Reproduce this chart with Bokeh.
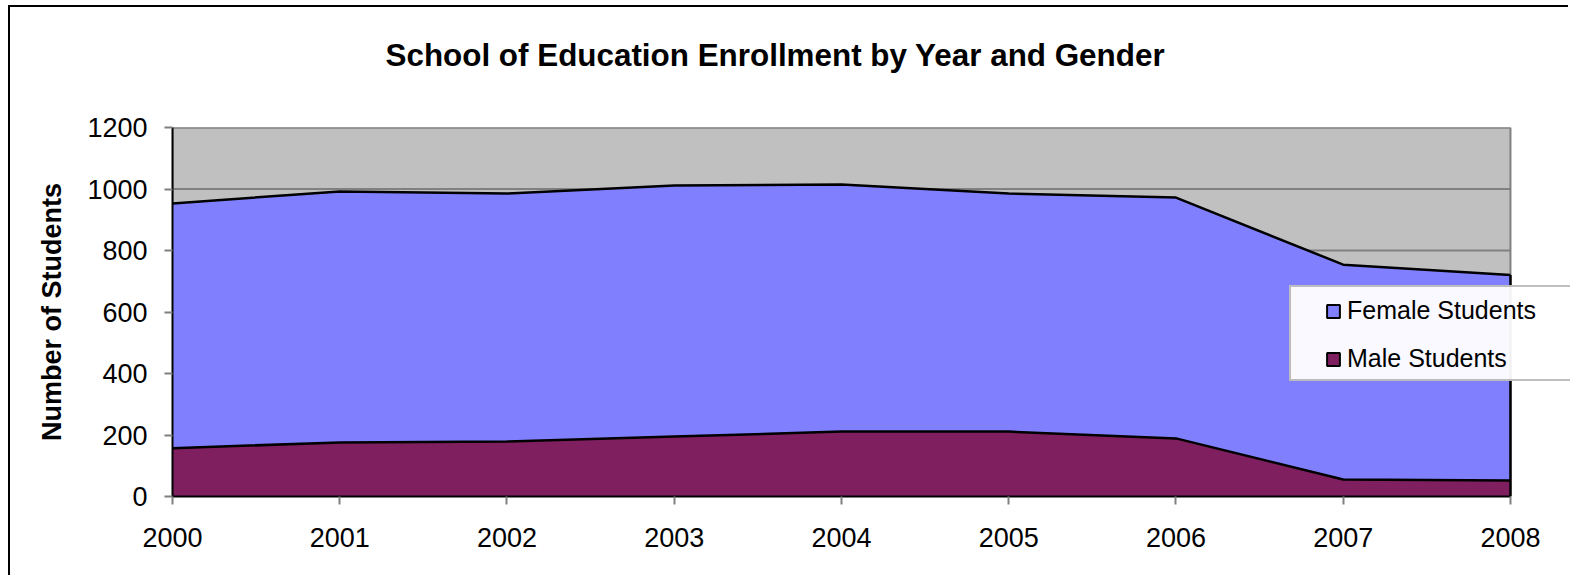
from bokeh.plotting import figure
from bokeh.models import ColumnDataSource, FixedTicker, Legend, LegendItem, Title
from bokeh.embed import file_html
from bokeh.resources import INLINE

years = [2000, 2001, 2002, 2003, 2004, 2005, 2006, 2007, 2008]
total_students = [953, 992, 985, 1011, 1015, 985, 972, 754, 720]
male_students = [157, 176, 179, 195, 211, 211, 189, 55, 52]
female_students = [t - m for t, m in zip(total_students, male_students)]
y_ticks = [0, 200, 400, 600, 800, 1000, 1200]

title_text = "School of Education Enrollment by Year and Gender"
y_label = "Number of Students"
series_names = ["Female Students", "Male Students"]

FEMALE = "#8080FF"
MALE = "#7F1F5F"
PLOT_BG = "#C0C0C0"
GRID = "#808080"
FONT = "Liberation Sans"
NAN = float("nan")

src = ColumnDataSource(dict(year=years, male=male_students, female=female_students,
                            total=total_students))

# frame runs to the right edge of the canvas so the legend can overlap the plot area
x_end = years[-1] + 0.359
p = figure(width=1560, height=570, output_backend="svg", toolbar_location=None,
           x_range=(years[0], x_end), y_range=(y_ticks[0], y_ticks[-1]),
           min_border_left=162, min_border_right=0, min_border_top=120, min_border_bottom=81)
p.styles = {"border-left": "2px solid black", "border-top": "2px solid black",
            "margin-left": "8px", "margin-top": "5px"}
p.background_fill_color = "white"
p.border_fill_color = "white"
p.outline_line_color = None
p.xgrid.visible = False
p.ygrid.visible = False

# plot area background + outline
p.quad(left=[years[0]], right=[years[-1]], bottom=[y_ticks[0]], top=[y_ticks[-1]],
       fill_color=PLOT_BG, line_color=GRID, line_width=2)
# horizontal gridlines
p.segment(x0=[years[0]] * len(y_ticks), x1=[years[-1]] * len(y_ticks),
          y0=y_ticks, y1=y_ticks, line_color=GRID, line_width=2)

areas = p.varea_stack(["male", "female"], x="year", source=src, color=[MALE, FEMALE])
p.line("year", "male", source=src, line_color="black", line_width=2.5)
p.line("year", "total", source=src, line_color="black", line_width=2.5)
p.segment(x0=[years[-1]], x1=[years[-1]], y0=[0], y1=[total_students[-1]],
          line_color="black", line_width=2.5)

p.xaxis.ticker = FixedTicker(ticks=years)
p.xaxis.bounds = (years[0], years[-1])
p.yaxis.ticker = FixedTicker(ticks=y_ticks)
for ax in (p.xaxis[0], p.yaxis[0]):
    ax.major_label_text_font = FONT
    ax.major_label_text_font_size = "27px"
    ax.major_label_text_color = "black"
    ax.major_tick_out = 8
    ax.major_tick_in = 0
    ax.minor_tick_out = 0
    ax.minor_tick_in = 0
    ax.major_tick_line_color = GRID
    ax.major_tick_line_width = 2
    ax.axis_line_color = "black"
    ax.axis_line_width = 2
p.yaxis.major_label_standoff = 17
p.xaxis.major_label_standoff = 23
p.yaxis.axis_label = y_label
p.yaxis.axis_label_text_font = FONT
p.yaxis.axis_label_text_font_style = "bold"
p.yaxis.axis_label_text_font_size = "27px"
p.yaxis.axis_label_text_color = "black"
p.yaxis.axis_label_standoff = 17

# spacer between the title and the plot area
p.add_layout(Title(text=" ", text_font_size="1px", standoff=52), "above")

# title
p.title.text = title_text
p.title.align = "left"
p.title.offset = 213
p.title.standoff = 0
p.title.text_font = FONT
p.title.text_font_style = "bold"
p.title.text_font_size = "31.4px"
p.title.text_color = "black"

# legend box (an invisible item only sizes the box)
dummy = p.scatter(x=[], y=[], fill_alpha=0, line_alpha=0)
box = Legend(items=[LegendItem(label=" ", renderers=[dummy])], location=(1117, 115),
             padding=10, label_height=72, glyph_height=13, glyph_width=13,
             label_width=300, label_text_alpha=0, border_line_color=GRID,
             border_line_width=2, background_fill_color="white", margin=0)
p.add_layout(box, "center")

sw_f = p.quad(left=[NAN], right=[NAN], top=[NAN], bottom=[NAN], fill_color=FEMALE,
              line_color="black", line_width=2)
sw_m = p.quad(left=[NAN], right=[NAN], top=[NAN], bottom=[NAN], fill_color=MALE,
              line_color="black", line_width=2)
leg = Legend(items=[LegendItem(label=series_names[0], renderers=[sw_f]),
                    LegendItem(label=series_names[1], renderers=[sw_m])],
             location=(1143, 113), padding=10, spacing=19, label_height=25,
             glyph_height=16, glyph_width=16, label_standoff=6,
             label_text_font=FONT, label_text_font_size="25px", label_text_color="black",
             background_fill_alpha=0, border_line_alpha=0, margin=0)
p.add_layout(leg, "center")

open("out.html", "w").write(file_html(p, INLINE))
